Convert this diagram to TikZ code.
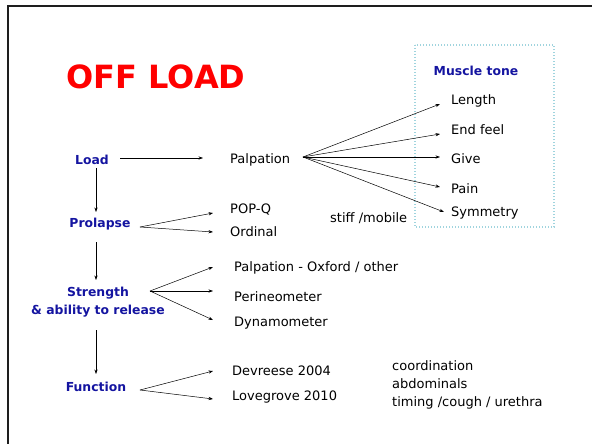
\documentclass[tikz,border=0pt]{standalone}
\usepackage{fontspec}
\setmainfont{DejaVu Sans}
\usetikzlibrary{arrows.meta}
\definecolor{lblue}{RGB}{20,20,160}
\definecolor{boxcyan}{RGB}{160,212,222}
\definecolor{frame}{RGB}{30,30,30}
\tikzset{
  body/.style={font=\fontsize{13}{15}\selectfont, inner sep=0pt, anchor=west, text height=9pt, text depth=2.5pt},
  lbl/.style={font=\fontsize{12.4}{17.5}\selectfont\bfseries, text=lblue, inner sep=0pt, align=center},
  arr/.style={draw=black, line width=0.5pt, -{Stealth[length=4.5pt,width=3.2pt]}},
}
\begin{document}
\begin{tikzpicture}[x=1pt,y=-1pt]
\useasboundingbox (0,0) rectangle (592,444);
% frame
\draw[frame, line width=2pt] (8,444) -- (8,6) -- (592,6);
% muscle tone box
\draw[boxcyan, line width=1.4pt, dash pattern=on 1.4pt off 1.6pt] (415,45) rectangle (554,227);
% title
\node[font=\fontsize{32}{36}\selectfont\bfseries, text=red, inner sep=0pt] (title) at (156,77) {OFF LOAD};
% left labels
\node[lbl] (load) at (92,160) {Load};
\node[lbl] (prol) at (100,224) {Prolapse};
\node[lbl] (str) at (98,302) {Strength\\\& ability to release};
\node[lbl] (func) at (96,387) {Function};
\node[lbl] (mt) at (476,71) {Muscle tone};
% body texts
\node[body] (palp) at (230,160) {Palpation};
\node[body] (popq) at (230,210) {POP-Q};
\node[body] (ord) at (230,233) {Ordinal};
\node[body] (oxf) at (234,268) {Palpation - Oxford / other};
\node[body] (per) at (234,298) {Perineometer};
\node[body] (dyn) at (234,323) {Dynamometer};
\node[body] (dev) at (232,372) {Devreese 2004};
\node[body] (lov) at (232,397) {Lovegrove 2010};
\node[body] (len) at (451,101) {Length};
\node[body] (endf) at (451,131) {End feel};
\node[body] (give) at (451,160) {Give};
\node[body] (pain) at (451,190) {Pain};
\node[body] (sym) at (451,213) {Symmetry};
\node[body] (stiff) at (330,219) {stiff /mobile};
\node[body] (coord) at (392,367) {coordination};
\node[body] (abd) at (392,385) {abdominals};
\node[body] (tim) at (392,403) {timing /cough / urethra};
% main chain
\draw[arr] ([shift={(28,-2)}]load.center) -- ([shift={(-27,-2)}]palp.west);
\draw[arr] ([shift={(4,8)}]load.center) -- ([shift={(-4,-12)}]prol.center);
\draw[arr] ([shift={(-4,18)}]prol.center) -- ([shift={(-2,-22)}]str.center);
\draw[arr] ([shift={(-2,28)}]str.center) -- ([shift={(0,-13)}]func.center);
% palpation fan
\draw[arr] ([shift={(73,-3)}]palp.west) -- ([shift={(-11,3)}]len.west);
\draw[arr] ([shift={(73,-3)}]palp.west) -- ([shift={(-11,3)}]endf.west);
\draw[arr] ([shift={(73,-3)}]palp.west) -- ([shift={(-11,-3)}]give.west);
\draw[arr] ([shift={(73,-3)}]palp.west) -- ([shift={(-11,-3)}]pain.west);
\draw[arr] ([shift={(73,-3)}]palp.west) -- ([shift={(-7,-1)}]sym.west);
% prolapse fan
\draw[arr] ([shift={(40,3)}]prol.center) -- ([shift={(-17,3)}]popq.west);
\draw[arr] ([shift={(40,3)}]prol.center) -- ([shift={(-17,-1)}]ord.west);
% strength fan
\draw[arr] ([shift={(52,-11)}]str.center) -- ([shift={(-21,-1)}]oxf.west);
\draw[arr] ([shift={(52,-11)}]str.center) -- ([shift={(-21,-7)}]per.west);
\draw[arr] ([shift={(52,-11)}]str.center) -- ([shift={(-21,-3)}]dyn.west);
% function fan
\draw[arr] ([shift={(44,3)}]func.center) -- ([shift={(-19,-1)}]dev.west);
\draw[arr] ([shift={(44,3)}]func.center) -- ([shift={(-19,2)}]lov.west);
\end{tikzpicture}
\end{document}
